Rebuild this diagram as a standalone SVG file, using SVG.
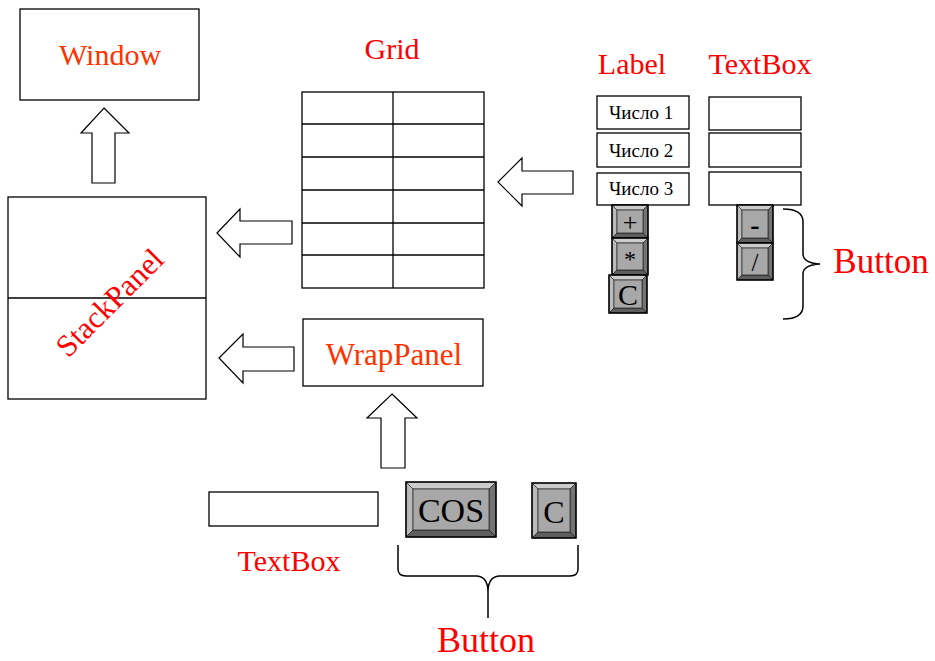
<svg xmlns="http://www.w3.org/2000/svg" width="935" height="661" viewBox="0 0 935 661">
  <style>
    .box { fill: #ffffff; stroke: #000000; stroke-width: 1.3; }
    .line { stroke: #000000; stroke-width: 1.3; fill: none; }
    .arrow { fill: #ffffff; stroke: #000000; stroke-width: 1.2; stroke-linejoin: miter; }
    .brace { fill: none; stroke: #000000; stroke-width: 1.5; }
    .title { font-family: "Liberation Serif", "Times New Roman", serif; fill: #ff0000; text-anchor: middle; }
    .orange { fill: #ff3300; }
    .small { font-family: "Liberation Serif", "Times New Roman", serif; font-size: 19px; fill: #000000; }
    .btxt { font-family: "Liberation Serif", "Times New Roman", serif; fill: #000000; text-anchor: middle; }
    .bt { fill: #cccccc; stroke: #000; stroke-width: 0.5; }
    .bl { fill: #bababa; stroke: #000; stroke-width: 0.5; }
    .br { fill: #737373; stroke: #000; stroke-width: 0.5; }
    .bb { fill: #5e5e5e; stroke: #000; stroke-width: 0.5; }
    .face { fill: #a8a8a8; stroke: #222; stroke-width: 0.7; }
    .bout { fill: none; stroke: #000; stroke-width: 1.5; }
  </style>

  <!-- Window -->
  <g id="window">
    <rect class="box" x="20" y="9" width="179" height="91"/>
    <text class="title orange" x="110" y="65" font-size="30">Window</text>
  </g>

  <!-- StackPanel -->
  <g id="stackpanel">
    <rect class="box" x="8" y="197" width="198" height="202"/>
    <line class="line" x1="8" y1="298" x2="206" y2="298"/>
    <text class="title" x="0" y="0" font-size="31" transform="translate(117,310) rotate(-45)">StackPanel</text>
  </g>

  <!-- Grid -->
  <g id="grid">
    <text class="title" x="392" y="59" font-size="30">Grid</text>
    <rect class="box" x="302" y="92" width="182" height="196"/>
    <line class="line" x1="393" y1="92" x2="393" y2="288"/>
    <line class="line" x1="302" y1="124" x2="484" y2="124"/>
    <line class="line" x1="302" y1="157" x2="484" y2="157"/>
    <line class="line" x1="302" y1="190" x2="484" y2="190"/>
    <line class="line" x1="302" y1="223" x2="484" y2="223"/>
    <line class="line" x1="302" y1="255" x2="484" y2="255"/>
  </g>

  <!-- Labels column -->
  <g id="labels">
    <text class="title" x="632" y="74" font-size="30">Label</text>
    <rect class="box" x="597" y="96" width="92" height="33"/>
    <text class="small" x="609" y="119">Число 1</text>
    <rect class="box" x="597" y="133" width="92" height="34"/>
    <text class="small" x="609" y="157">Число 2</text>
    <rect class="box" x="597" y="173" width="92" height="32"/>
    <text class="small" x="609" y="195">Число 3</text>
  </g>

  <!-- TextBox column -->
  <g id="textboxes">
    <text class="title" x="760" y="74" font-size="30">TextBox</text>
    <rect class="box" x="709" y="97" width="92" height="33"/>
    <rect class="box" x="709" y="133" width="92" height="34"/>
    <rect class="box" x="709" y="172" width="92" height="33"/>
  </g>

  <!-- Calculator buttons -->
  <g id="btn-plus">
    <polygon class="bt" points="612,205 648,205 643,210 617,210"/>
    <polygon class="bl" points="612,205 617,210 617,233 612,238"/>
    <polygon class="br" points="648,205 648,238 643,233 643,210"/>
    <polygon class="bb" points="612,238 617,233 643,233 648,238"/>
    <rect class="face" x="617" y="210" width="26" height="23"/>
    <rect class="bout" x="612" y="205" width="36" height="33"/>
    <text class="btxt" x="630" y="231" font-size="26">+</text>
  </g>
  <g id="btn-mul">
    <polygon class="bt" points="612,238 648,238 643,243 617,243"/>
    <polygon class="bl" points="612,238 617,243 617,270 612,275"/>
    <polygon class="br" points="648,238 648,275 643,270 643,243"/>
    <polygon class="bb" points="612,275 617,270 643,270 648,275"/>
    <rect class="face" x="617" y="243" width="26" height="27"/>
    <rect class="bout" x="612" y="238" width="36" height="37"/>
    <text class="btxt" x="630" y="267" font-size="24">*</text>
  </g>
  <g id="btn-clear">
    <polygon class="bt" points="609,275 647,275 642,280 614,280"/>
    <polygon class="bl" points="609,275 614,280 614,308 609,313"/>
    <polygon class="br" points="647,275 647,313 642,308 642,280"/>
    <polygon class="bb" points="609,313 614,308 642,308 647,313"/>
    <rect class="face" x="614" y="280" width="28" height="28"/>
    <rect class="bout" x="609" y="275" width="38" height="38"/>
    <text class="btxt" x="628" y="305" font-size="30">C</text>
  </g>
  <g id="btn-minus">
    <polygon class="bt" points="737,205 773,205 768,210 742,210"/>
    <polygon class="bl" points="737,205 742,210 742,238 737,243"/>
    <polygon class="br" points="773,205 773,243 768,238 768,210"/>
    <polygon class="bb" points="737,243 742,238 768,238 773,243"/>
    <rect class="face" x="742" y="210" width="26" height="28"/>
    <rect class="bout" x="737" y="205" width="36" height="38"/>
    <text class="btxt" x="755" y="234" font-size="28" font-weight="bold">-</text>
  </g>
  <g id="btn-div">
    <polygon class="bt" points="737,243 773,243 768,248 742,248"/>
    <polygon class="bl" points="737,243 742,248 742,275 737,280"/>
    <polygon class="br" points="773,243 773,280 768,275 768,248"/>
    <polygon class="bb" points="737,280 742,275 768,275 773,280"/>
    <rect class="face" x="742" y="248" width="26" height="27"/>
    <rect class="bout" x="737" y="243" width="36" height="37"/>
    <text class="btxt" x="755" y="271" font-size="25">/</text>
  </g>
  <g id="button-label-right">
    <path class="brace" d="M783,209 Q803,209 803,222 L803,254 Q803,263 820,264 Q803,265 803,274 L803,306 Q803,319 783,319"/>
    <text class="title" x="881" y="273" font-size="35">Button</text>
  </g>

  <!-- WrapPanel -->
  <g id="wrappanel">
    <rect class="box" x="303" y="319" width="180" height="67"/>
    <text class="title orange" x="394" y="365" font-size="31">WrapPanel</text>
  </g>

  <!-- WrapPanel contents -->
  <g id="wrap-textbox">
    <rect class="box" x="209" y="492" width="169" height="34"/>
    <text class="title" x="289" y="571" font-size="30">TextBox</text>
  </g>
  <g id="btn-cos">
    <polygon class="bt" points="406,482 496,482 489,489 413,489"/>
    <polygon class="bl" points="406,482 413,489 413,530 406,537"/>
    <polygon class="br" points="496,482 496,537 489,530 489,489"/>
    <polygon class="bb" points="406,537 413,530 489,530 496,537"/>
    <rect class="face" x="413" y="489" width="76" height="41"/>
    <rect class="bout" x="406" y="482" width="90" height="55"/>
    <text class="btxt" x="451" y="522" font-size="34">COS</text>
  </g>
  <g id="btn-c">
    <polygon class="bt" points="532,483 576,483 570,489 538,489"/>
    <polygon class="bl" points="532,483 538,489 538,532 532,538"/>
    <polygon class="br" points="576,483 576,538 570,532 570,489"/>
    <polygon class="bb" points="532,538 538,532 570,532 576,538"/>
    <rect class="face" x="538" y="489" width="32" height="43"/>
    <rect class="bout" x="532" y="483" width="44" height="55"/>
    <text class="btxt" x="554" y="523" font-size="32">C</text>
  </g>
  <g id="button-label-bottom">
    <path class="brace" d="M398,545 L398,569 Q398,576 406,576 L477,576 Q488,577 488,592 L488,618 M578,545 L578,569 Q578,576 570,576 L499,576 Q488,577 488,592"/>
    <text class="title" x="486" y="652" font-size="36">Button</text>
  </g>

  <!-- Connectors: block arrows -->
  <g id="connectors">
    <polygon class="arrow" points="104,108 129,133 115,133 115,183 92,183 92,133 81,133"/>
    <polygon class="arrow" points="217,233 240,209 240,221 292,221 292,244 240,244 240,257"/>
    <polygon class="arrow" points="219,358 243,334 243,347 294,347 294,371 243,371 243,383"/>
    <polygon class="arrow" points="498,182 522,158 522,171 573,171 573,194 522,194 522,206"/>
    <polygon class="arrow" points="392,394 417,418 405,418 405,468 381,468 381,418 367,418"/>
  </g>
</svg>
